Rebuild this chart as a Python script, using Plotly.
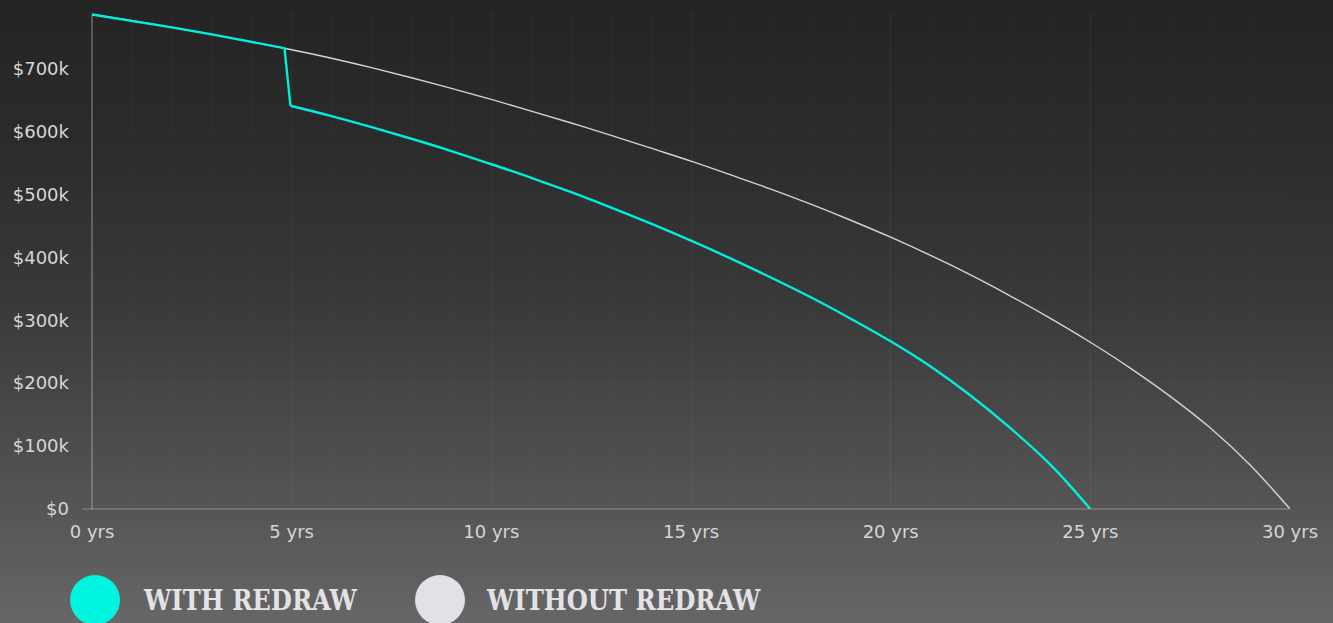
import plotly.graph_objects as go

# ---- data ----
years_without = list(range(0, 31))
balance_without = [786000, 776000, 765500, 754500, 742500, 730000, 716500, 701500, 685500, 668500,
                   651000, 632500, 613500, 594000, 573500, 553000, 531000, 508500, 484500, 459000,
                   432000, 403000, 372000, 338500, 303000, 265000, 224000, 179000, 129000, 70000, 0]

years_with = [0, 1, 2, 3, 4, 4.82, 4.97, 6, 7, 8, 9, 10, 11, 12, 13, 14, 15, 16, 17, 18, 19,
              20, 21, 22, 23, 24, 25]
balance_with = [786000, 776000, 765500, 754500, 742500, 732500, 641000, 624500, 607000, 588500,
                569000, 548000, 526500, 503500, 479000, 453500, 426500, 398000, 368000, 336500,
                302500, 266500, 226500, 180500, 128500, 70500, 0]
redraw_index = 6  # index in years_with where the redraw drop lands

y_tickvals = [0, 100000, 200000, 300000, 400000, 500000, 600000, 700000]
y_ticktext = ["$0", "$100k", "$200k", "$300k", "$400k", "$500k", "$600k", "$700k"]
x_tickvals = [0, 5, 10, 15, 20, 25, 30]
x_ticktext = ["0 yrs", "5 yrs", "10 yrs", "15 yrs", "20 yrs", "25 yrs", "30 yrs"]

series_names = ["WITH REDRAW", "WITHOUT REDRAW"]
CYAN = "#00eedb"
CYAN_DOT = "#00f5e1"
GREY = "#d4d4d6"
GREY_DOT = "#e2e2e6"

# ---- layout geometry ----
W, H = 1333, 623
ML, MR, MT, MB = 92, 43, 12, 114
PW, PH = W - ML - MR, H - MT - MB
YMAX = 790000


def px_to_paper_x(px):
    return (px - ML) / PW


def py_to_paper_y(py):
    return (H - MB - py) / PH


fig = go.Figure()
fig.add_trace(go.Scatter(x=years_without, y=balance_without, mode="lines",
                         line=dict(color=GREY, width=1.4, shape="spline", smoothing=1.0),
                         name=series_names[1], showlegend=False, hoverinfo="skip"))
# with-redraw series: straight part up to and including the drop, smooth curve afterwards
fig.add_trace(go.Scatter(x=years_with[:redraw_index + 1], y=balance_with[:redraw_index + 1],
                         mode="lines", line=dict(color=CYAN, width=2.4),
                         name=series_names[0], showlegend=False, hoverinfo="skip"))
fig.add_trace(go.Scatter(x=years_with[redraw_index:], y=balance_with[redraw_index:],
                         mode="lines", line=dict(color=CYAN, width=2.4, shape="spline", smoothing=1.0),
                         name=series_names[0], showlegend=False, hoverinfo="skip"))

shapes = []
# vertical background gradient (strips)
stops = [(0, 36), (150, 44), (300, 57), (450, 77), (623, 102)]


def grey_at(py):
    for (a, ca), (b, cb) in zip(stops[:-1], stops[1:]):
        if a <= py <= b:
            return ca + (cb - ca) * (py - a) / (b - a)
    return stops[-1][1]


n = 100
for i in range(n):
    y_top = H * i / n
    y_bot = H * (i + 1) / n
    g = int(round(grey_at((y_top + y_bot) / 2)))
    shapes.append(dict(type="rect", xref="paper", yref="paper", layer="below",
                       x0=px_to_paper_x(-2), x1=px_to_paper_x(W + 2),
                       y0=py_to_paper_y(y_bot + 0.6), y1=py_to_paper_y(y_top - 0.6),
                       line=dict(width=0), fillcolor=f"rgb({g},{g},{g})"))

axis_col = "rgba(185,185,185,0.6)"
# x axis line (extends a little left of the y axis)
shapes.append(dict(type="line", xref="paper", yref="paper", layer="above",
                   x0=px_to_paper_x(82), x1=1, y0=0, y1=0,
                   line=dict(color=axis_col, width=1.2)))
# y axis line (extends a little below the x axis)
shapes.append(dict(type="line", xref="paper", yref="y", layer="above",
                   x0=0, x1=0, y0=-9 / PH * YMAX, y1=balance_without[0],
                   line=dict(color=axis_col, width=1.2)))

# legend dots
for cx, col in [(95, CYAN_DOT), (440, GREY_DOT)]:
    shapes.append(dict(type="circle", xref="paper", yref="paper", layer="above",
                       xsizemode="pixel", ysizemode="pixel",
                       xanchor=px_to_paper_x(cx), yanchor=py_to_paper_y(600),
                       x0=-25, x1=25, y0=-25, y1=25,
                       fillcolor=col, line=dict(width=0)))

annotations = []
for tx, label in [(141, series_names[0]), (484, series_names[1])]:
    annotations.append(dict(xref="paper", yref="paper", x=px_to_paper_x(tx), y=py_to_paper_y(600),
                            xanchor="left", yanchor="middle", showarrow=False, text=label,
                            font=dict(family="DejaVu Serif Condensed, DejaVu Serif", size=27,
                                      color="#e3e3e7", weight="bold")))

tick_font = dict(family="DejaVu Sans", size=18, color="#d6d6d6")
grid_col = "rgba(255,255,255,0.022)"

fig.update_layout(
    width=W, height=H,
    margin=dict(l=ML, r=MR, t=MT, b=MB),
    paper_bgcolor="rgb(60,60,60)",
    plot_bgcolor="rgba(0,0,0,0)",
    shapes=shapes,
    annotations=annotations,
    xaxis=dict(range=[0, 30], tickmode="array", tickvals=x_tickvals, ticktext=x_ticktext,
               showline=False, zeroline=False, ticks="", tickfont=tick_font,
               showgrid=True, gridcolor=grid_col, gridwidth=1,
               minor=dict(tickmode="linear", tick0=0, dtick=1, showgrid=True,
                          gridcolor=grid_col, gridwidth=1),
               ticklabelstandoff=10, fixedrange=True),
    yaxis=dict(range=[0, YMAX], tickmode="array", tickvals=y_tickvals, ticktext=y_ticktext,
               showline=False, zeroline=False, ticks="", tickfont=tick_font,
               showgrid=True, gridcolor=grid_col, gridwidth=1,
               ticklabelstandoff=22, fixedrange=True),
    showlegend=False,
)

fig.write_html("out.html", config={"displayModeBar": False})
